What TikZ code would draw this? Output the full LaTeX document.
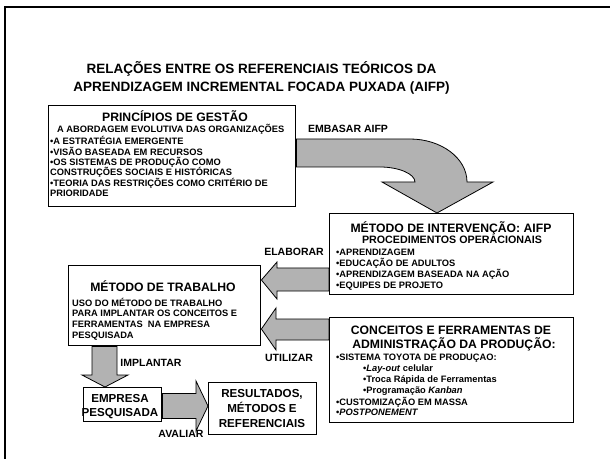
\documentclass[tikz,border=0pt]{standalone}
\usepackage{fontspec}
\setmainfont{Liberation Sans}
\usetikzlibrary{calc}
\pgfdeclarelayer{bg}
\pgfsetlayers{bg,main}
\definecolor{arrowgray}{RGB}{178,178,178}
\newcommand\fTitle{\fontsize{13.5bp}{16bp}\selectfont\bfseries}
\newcommand\fHead{\fontsize{12.2bp}{14bp}\selectfont\bfseries}
\newcommand\fSub{\fontsize{10.7bp}{13bp}\selectfont\bfseries}
\newcommand\fBody{\fontsize{9.3bp}{11bp}\selectfont\bfseries}
\newcommand\fLabel{\fontsize{10.5bp}{12bp}\selectfont\bfseries}
\newcommand\fBig{\fontsize{11.6bp}{14bp}\selectfont\bfseries}
\tikzset{
  box/.style={draw, line width=1.4bp, fill=white, inner sep=0pt, anchor=north west},
  blockarrow/.style={draw, line width=0.8bp, fill=arrowgray, line join=miter},
  txt/.style={inner sep=0pt, anchor=base west},
  ctxt/.style={inner sep=0pt, anchor=base},
}
\begin{document}
\begin{tikzpicture}[x=1bp,y=-1bp]
\useasboundingbox (0,0) rectangle (610,459);
\draw[line width=2bp] (5,459) -- (5,7) -- (610,7);

% title
\node[ctxt, font=\fTitle] (title1) at (261.5,73.8) {RELAÇÕES ENTRE OS REFERENCIAIS TEÓRICOS DA};
\node[ctxt, font=\fTitle] (title2) at (261.5,91.5) {APRENDIZAGEM INCREMENTAL FOCADA PUXADA (AIFP)};

% boxes
\node[box, minimum width=247bp, minimum height=101bp] (gestao) at (48,105) {};
\node[box, minimum width=244bp, minimum height=81bp] (intervencao) at (329,213) {};
\node[box, minimum width=192bp, minimum height=80bp] (trabalho) at (68,265) {};
\node[box, minimum width=244bp, minimum height=105bp] (conceitos) at (329,317) {};
\node[box, minimum width=78bp, minimum height=34bp] (empresa) at (83,387) {};
\node[box, minimum width=108bp, minimum height=52bp] (resultados) at (208,382) {};

% box 1 text
\node[ctxt, font=\fHead] (g0) at (175,121.3) {PRINCÍPIOS DE GESTÃO};
\node[txt, font=\fBody] (g1) at (57,132.6) {A ABORDAGEM EVOLUTIVA DAS ORGANIZAÇÕES};
\node[txt, font=\fBody] (g2) at (50,145) {•A ESTRATÉGIA EMERGENTE};
\node[txt, font=\fBody] (g3) at (50,155.6) {•VISÃO BASEADA EM RECURSOS};
\node[txt, font=\fBody] (g4) at (50,165.6) {•OS SISTEMAS DE PRODUÇÃO COMO};
\node[txt, font=\fBody] (g5) at (50,175.8) {CONSTRUÇÕES SOCIAIS E HISTÓRICAS};
\node[txt, font=\fBody] (g6) at (50,186.3) {•TEORIA DAS RESTRIÇÕES COMO CRITÉRIO DE};
\node[txt, font=\fBody] (g7) at (50,196.6) {PRIORIDADE};

% box 2 text
\node[ctxt, font=\fHead] (i0) at (451,232.2) {MÉTODO DE INTERVENÇÃO: AIFP};
\node[ctxt, font=\fSub] (i1) at (452,243.3) {PROCEDIMENTOS OPERACIONAIS};
\node[txt, font=\fBody] (i2) at (336,255.6) {•APRENDIZAGEM};
\node[txt, font=\fBody] (i3) at (336,266.6) {•EDUCAÇÃO DE ADULTOS};
\node[txt, font=\fBody] (i4) at (336,277.3) {•APRENDIZAGEM BASEADA NA AÇÃO};
\node[txt, font=\fBody] (i5) at (336,288.3) {•EQUIPES DE PROJETO};

% box 3 text
\node[ctxt, font=\fHead] (t0) at (163,291.7) {MÉTODO DE TRABALHO};
\node[txt, font=\fBody] (t1) at (72,306) {USO DO MÉTODO DE TRABALHO};
\node[txt, font=\fBody] (t2) at (72,316.6) {PARA IMPLANTAR OS CONCEITOS E};
\node[txt, font=\fBody] (t3) at (72,327.3) {FERRAMENTAS\ \ NA EMPRESA};
\node[txt, font=\fBody] (t4) at (72,338.3) {PESQUISADA};

% box 4 text
\node[ctxt, font=\fHead] (c0) at (451,334) {CONCEITOS E FERRAMENTAS DE};
\node[ctxt, font=\fHead] (c1) at (454,348.4) {ADMINISTRAÇÃO DA PRODUÇÃO:};
\node[txt, font=\fBody] (c2) at (336,360.6) {•SISTEMA TOYOTA DE PRODUÇAO:};
\node[txt, font=\fBody] (c3) at (363,371.6) {•\textit{Lay-out} celular};
\node[txt, font=\fBody] (c4) at (363,382.3) {•Troca Rápida de Ferramentas};
\node[txt, font=\fBody] (c5) at (363,393.3) {•Programação \textit{Kanban}};
\node[txt, font=\fBody] (c6) at (336,405) {•CUSTOMIZAÇÃO EM MASSA};
\node[txt, font=\fBody] (c7) at (336,415.6) {•\textit{POSTPONEMENT}};

% box 5 and 6 text
\node[ctxt, font=\fBig] (e1) at (120,402) {EMPRESA};
\node[ctxt, font=\fBig] (e2) at (120,416.5) {PESQUISADA};
\node[ctxt, font=\fBig] (r1) at (262,397.6) {RESULTADOS,};
\node[ctxt, font=\fBig] (r2) at (262,412) {MÉTODOS E};
\node[ctxt, font=\fBig] (r3) at (262,427.6) {REFERENCIAIS};

% labels
\node[ctxt, font=\fLabel] (lembasar) at (348,132.8) {EMBASAR AIFP};
\node[ctxt, font=\fLabel] (lelaborar) at (294,255.8) {ELABORAR};
\node[ctxt, font=\fLabel] (lutilizar) at (289,361.8) {UTILIZAR};
\node[ctxt, font=\fLabel] (limplantar) at (151,366.8) {IMPLANTAR};
\node[ctxt, font=\fLabel] (lavaliar) at (181,437.8) {AVALIAR};

% arrows
\begin{pgfonlayer}{bg}
\path[blockarrow] (gestao.east |- 0,139) -- (410,139)
  .. controls (441,139) and (467,158) .. (467,182)
  -- (493,182) -- (intervencao.north -| 437,0) -- (382,182) -- (415,182)
  .. controls (415,174) and (399,167) .. (380,167)
  -- (gestao.east |- 0,167) -- cycle;
\path[blockarrow] (intervencao.west |- 0,268) -- (277,268) -- (277,262)
  -- (trabalho.east |- 0,280) -- (277,299) -- (277,291)
  -- (intervencao.west |- 0,291) -- cycle;
\path[blockarrow] (conceitos.west |- 0,319) -- (276,319) -- (276,308)
  -- (trabalho.east |- 0,329) -- (276,350) -- (276,340)
  -- (conceitos.west |- 0,340) -- cycle;
\path[blockarrow] (trabalho.south -| 92,0) -- (92,375) -- (82,375)
  -- (empresa.north -| 105,0) -- (128,375) -- (117,375)
  -- (trabalho.south -| 117,0) -- cycle;
\path[blockarrow] (empresa.east |- 0,393.5) -- (196,393.5) -- (196,381)
  -- (resultados.west |- 0,406) -- (196,431) -- (196,418.5)
  -- (empresa.east |- 0,418.5) -- cycle;
\end{pgfonlayer}
\end{tikzpicture}
\end{document}
